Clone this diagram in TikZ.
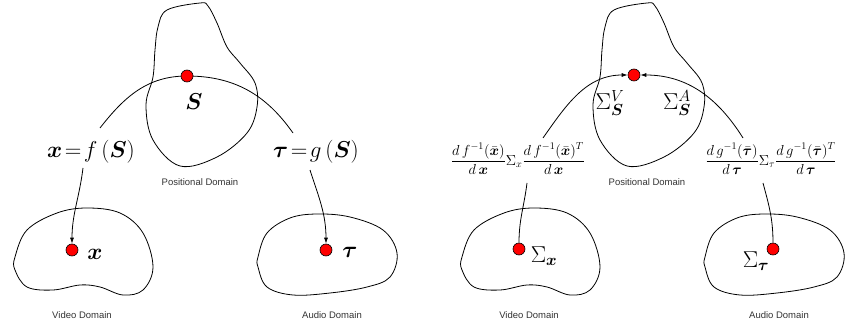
\RequirePackage{fix-cm}
\documentclass[tikz,border=0pt]{standalone}
\usepackage{amsmath,amssymb,bm}
\usepackage{fontspec}
\setsansfont{Liberation Sans}
\usetikzlibrary{arrows.meta}

\begin{document}
\begin{tikzpicture}[x=1pt,y=-1pt,>={Latex[length=6pt,width=4pt]},line width=0.8pt,
  dot/.style={circle,fill=red,draw=black,line width=0.6pt,minimum size=12pt,inner sep=0pt},
  domlabel/.style={font=\sffamily\fontsize{9.5}{11}\selectfont,text=black!80},
  bigmath/.style={font=\fontsize{23}{27}\selectfont,inner sep=0pt},
  smallmath/.style={font=\fontsize{14.5}{17}\selectfont,inner sep=0pt}]
  \useasboundingbox (0,0) rectangle (847,326);
  % the three domains, left and right panel
  \foreach \dx/\side in {0/L,447/R}{
    \begin{scope}[xshift=\dx]
      \draw plot[smooth cycle,tension=0.6] coordinates {(200,3) (167,10) (158,27) (155,50) (153,77)
        (146,105) (153,140) (180,166) (217,157) (247,133) (257,107) (255,83) (240,63) (227,47) (217,23) (208,6)};
      \draw plot[smooth cycle,tension=0.6] coordinates {(15,257) (27,230) (57,213) (87,208) (120,213)
        (143,233) (153,267) (143,290) (123,295) (100,287) (80,285) (53,290) (27,287) (15,270)};
      \draw plot[smooth cycle,tension=0.6] coordinates {(258,257) (267,233) (290,218) (317,214) (350,217)
        (383,230) (397,253) (390,277) (367,287) (330,293) (293,295) (267,287) (258,267)};
      \node[domlabel] (pos\side) at (200,182) {Positional Domain};
      \node[domlabel] (vid\side) at (82,315) {Video Domain};
      \node[domlabel] (aud\side) at (332,315) {Audio Domain};
    \end{scope}
  }
  % left panel: mapping
  \coordinate (arcL) at (100,128);
  \coordinate (arcR) at (293,133);
  \coordinate (fx) at (83,168);
  \coordinate (gt) at (310,170);
  \draw (arcL) to[out=52,in=180] (187,76) to[out=0,in=125] (arcR);
  \node[dot] (S) at (187,76) {};
  \node[dot] (x) at (72,250) {};
  \node[dot] (t) at (326,250) {};
  \draw[->] (fx) to[out=-97,in=90] (x);
  \draw[->] (gt) to[out=-72,in=90] (t);
  \node[bigmath] (Slab) at (194,102) {$\bm{S}$};
  \node[bigmath] (xlab) at (95,254) {$\bm{x}$};
  \node[bigmath] (tlab) at (350,252) {$\bm{\tau}$};
  \node[bigmath] (feq) at (91,152) {$\bm{x}\!=\!f\,(\bm{S})$};
  \node[bigmath] (geq) at (316,152) {$\bm{\tau}\!=\!g\,(\bm{S})$};
  % right panel: covariances
  \coordinate (vx) at (527,183);
  \coordinate (vt) at (763,183);
  \coordinate (cvL) at (543,138);
  \coordinate (cvR) at (743,138);
  \node[dot] (SR) at (634,75) {};
  \node[dot] (xR) at (519,249) {};
  \node[dot] (tR) at (773,249) {};
  \draw[->] (cvL) to[out=55,in=180] (SR);
  \draw[->] (cvR) to[out=122,in=0] (SR);
  \draw (xR) to[out=90,in=-97] (vx);
  \draw (tR) to[out=90,in=-75] (vt);
  \node[bigmath] (SV) at (610,103) {$\Sigma_{\bm{S}}^{V}$};
  \node[bigmath] (SA) at (677,103) {$\Sigma_{\bm{S}}^{A}$};
  \node[bigmath] (Sxlab) at (544,256) {$\Sigma_{\bm{x}}$};
  \node[bigmath] (Stlab) at (756,261) {$\Sigma_{\bm{\tau}}$};
  \node[smallmath] (covx) at (518,159)
    {$\dfrac{d\,f^{-1}(\bar{\bm{x}})}{d\,\bm{x}}\Sigma_x\dfrac{d\,f^{-1}(\bar{\bm{x}})^T}{d\,\bm{x}}$};
  \node[smallmath] (covt) at (771,159)
    {$\dfrac{d\,g^{-1}(\bar{\bm{\tau}})}{d\,\bm{\tau}}\Sigma_\tau\dfrac{d\,g^{-1}(\bar{\bm{\tau}})^T}{d\,\bm{\tau}}$};
\end{tikzpicture}
\end{document}
